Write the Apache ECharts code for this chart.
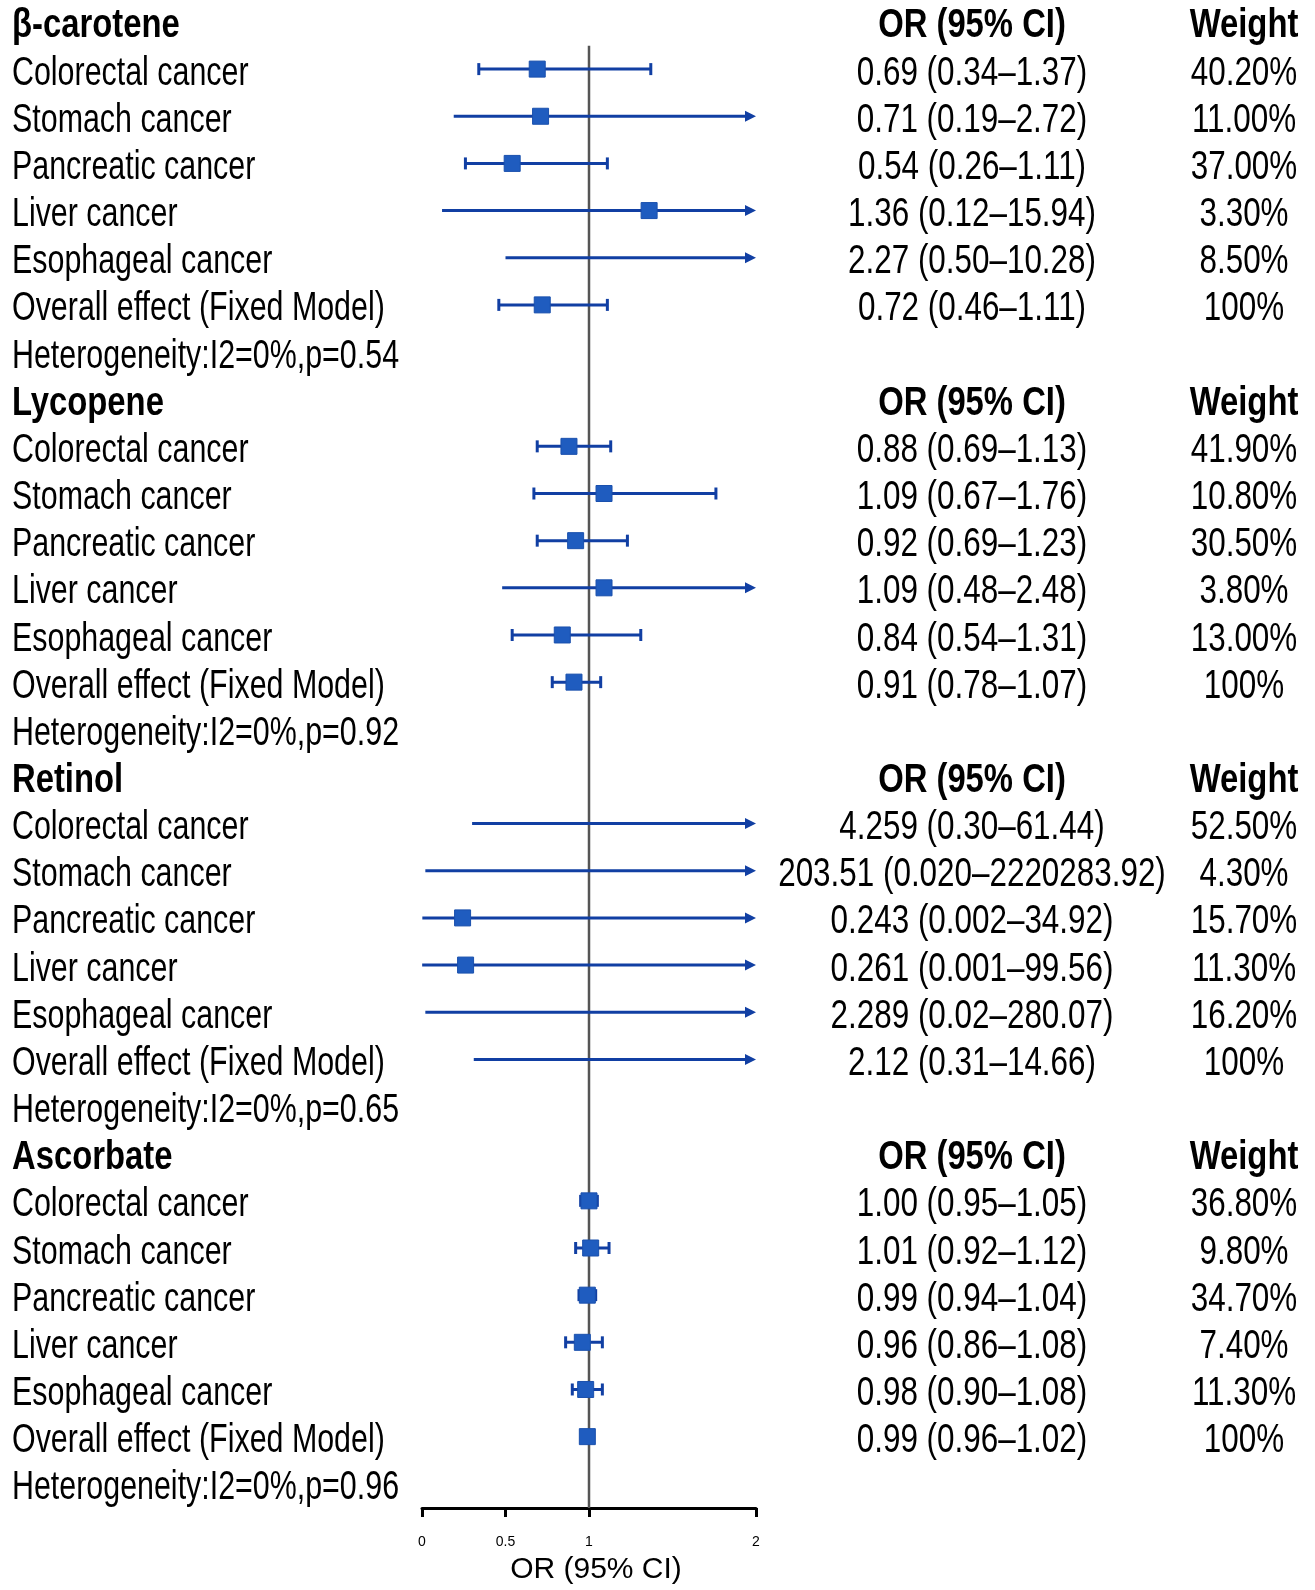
<!DOCTYPE html>
<html><head><meta charset="utf-8">
<script src="https://cdn.jsdelivr.net/npm/echarts@6/dist/echarts.min.js"></script>
<style>html,body{margin:0;padding:0;background:#fff}#c{width:1315px;height:1590px}</style>
</head><body><div id="c"></div>
<script>
// ---------- data ----------
const groups = ['β-carotene', 'Lycopene', 'Retinol', 'Ascorbate'];
const outcomes = ['Colorectal cancer', 'Stomach cancer', 'Pancreatic cancer', 'Liver cancer', 'Esophageal cancer', 'Overall effect (Fixed Model)'];

const betaOR = [0.69, 0.71, 0.54, 1.36, 2.27, 0.72];
const betaLo = [0.34, 0.19, 0.26, 0.12, 0.50, 0.46];
const betaHi = [1.37, 2.72, 1.11, 15.94, 10.28, 1.11];
const betaText = ['0.69 (0.34–1.37)', '0.71 (0.19–2.72)', '0.54 (0.26–1.11)', '1.36 (0.12–15.94)', '2.27 (0.50–10.28)', '0.72 (0.46–1.11)'];
const betaWeight = ['40.20%', '11.00%', '37.00%', '3.30%', '8.50%', '100%'];

const lycoOR = [0.88, 1.09, 0.92, 1.09, 0.84, 0.91];
const lycoLo = [0.69, 0.67, 0.69, 0.48, 0.54, 0.78];
const lycoHi = [1.13, 1.76, 1.23, 2.48, 1.31, 1.07];
const lycoText = ['0.88 (0.69–1.13)', '1.09 (0.67–1.76)', '0.92 (0.69–1.23)', '1.09 (0.48–2.48)', '0.84 (0.54–1.31)', '0.91 (0.78–1.07)'];
const lycoWeight = ['41.90%', '10.80%', '30.50%', '3.80%', '13.00%', '100%'];

const retiOR = [4.259, 203.51, 0.243, 0.261, 2.289, 2.12];
const retiLo = [0.30, 0.020, 0.002, 0.001, 0.02, 0.31];
const retiHi = [61.44, 2220283.92, 34.92, 99.56, 280.07, 14.66];
const retiText = ['4.259 (0.30–61.44)', '203.51 (0.020–2220283.92)', '0.243 (0.002–34.92)', '0.261 (0.001–99.56)', '2.289 (0.02–280.07)', '2.12 (0.31–14.66)'];
const retiWeight = ['52.50%', '4.30%', '15.70%', '11.30%', '16.20%', '100%'];

const ascoOR = [1.00, 1.01, 0.99, 0.96, 0.98, 0.99];
const ascoLo = [0.95, 0.92, 0.94, 0.86, 0.90, 0.96];
const ascoHi = [1.05, 1.12, 1.04, 1.08, 1.08, 1.02];
const ascoText = ['1.00 (0.95–1.05)', '1.01 (0.92–1.12)', '0.99 (0.94–1.04)', '0.96 (0.86–1.08)', '0.98 (0.90–1.08)', '0.99 (0.96–1.02)'];
const ascoWeight = ['36.80%', '9.80%', '34.70%', '7.40%', '11.30%', '100%'];

const hetP = ['0.54', '0.92', '0.65', '0.96'];
const xTicks = [0, 0.5, 1, 2];
const refValue = 1;
const colHeaderOR = 'OR (95% CI)';
const colHeaderW = 'Weight';

// ---------- build ----------
const XMIN = 0, XMAX = 2;
const YMAX = 31.418;
const allOR = [betaOR, lycoOR, retiOR, ascoOR];
const allLo = [betaLo, lycoLo, retiLo, ascoLo];
const allHi = [betaHi, lycoHi, retiHi, ascoHi];
const allText = [betaText, lycoText, retiText, ascoText];
const allW = [betaWeight, lycoWeight, retiWeight, ascoWeight];

const rows = [];
const marks = [];
groups.forEach((g, gi) => {
  const base = gi * 8;
  rows.push({ row: base, label: g, bold: true, ci: colHeaderOR, w: colHeaderW });
  outcomes.forEach((o, i) => {
    rows.push({ row: base + 1 + i, label: o, bold: false, ci: allText[gi][i], w: allW[gi][i] });
    marks.push([base + 1 + i, allOR[gi][i], allLo[gi][i], allHi[gi][i]]);
  });
  rows.push({ row: base + 7, label: 'Heterogeneity:I2=0%,p=' + hetP[gi], bold: false });
});

const LINE_C = '#113fa3';
const BOX_C = '#1f5cbf';
const FONT = 'Liberation Sans, Arial, sans-serif';

function txt(x, y, s, bold, align, sx) {
  return {
    type: 'text', x: x, y: y, scaleX: sx,
    style: { text: s, fontSize: 40, fontFamily: FONT, fontWeight: bold ? 'bold' : 'normal',
             fill: '#000', align: align, verticalAlign: 'middle' }
  };
}

const chart = echarts.init(document.getElementById('c'), null, { renderer: 'canvas' });
chart.setOption({
  backgroundColor: '#fff',
  animation: false,
  grid: { left: 422, right: 559, top: 2.875, bottom: 79, containLabel: false },
  xAxis: {
    type: 'value', min: XMIN, max: XMAX, interval: 0.5,
    axisLine: { show: true, onZero: false, lineStyle: { color: '#000', width: 3 } },
    axisTick: { show: true, length: 9, customValues: xTicks, lineStyle: { color: '#000', width: 3 } },
    axisLabel: { customValues: xTicks, fontSize: 14, color: '#000', margin: 27, fontFamily: FONT },
    splitLine: { show: false },
    name: 'OR (95% CI)', nameLocation: 'middle', nameGap: 47,
    nameTextStyle: { fontSize: 30, color: '#000', fontFamily: FONT, padding: [0, 0, 0, 14] }
  },
  yAxis: { type: 'value', min: -0.5, max: YMAX, inverse: true, show: false },
  series: [
    {
      type: 'custom', silent: true, z: 1,
      data: [[refValue]],
      renderItem: (p, api) => {
        const a = api.coord([api.value(0), 0.41]);
        const b = api.coord([api.value(0), YMAX]);
        return { type: 'line', shape: { x1: a[0], y1: a[1], x2: b[0], y2: b[1] },
                 style: { stroke: '#555', lineWidth: 2.5 } };
      }
    },
    {
      type: 'custom', silent: true, z: 2,
      data: marks,
      renderItem: (p, api) => {
        const row = api.value(0), est = api.value(1), lo = api.value(2), hi = api.value(3);
        const y = api.coord([XMIN, row])[1] - 4.5;
        const xL = api.coord([Math.max(lo, XMIN), row])[0];
        const over = hi > XMAX;
        const xR = api.coord([Math.min(hi, XMAX), row])[0];
        const ch = [];
        ch.push({ type: 'line', shape: { x1: xL, y1: y, x2: over ? xR - 6 : xR, y2: y },
                  style: { stroke: LINE_C, lineWidth: 3 } });
        if (over) {
          ch.push({ type: 'polygon', shape: { points: [[xR - 11, y - 5.5], [xR, y], [xR - 11, y + 5.5]] },
                    style: { fill: LINE_C } });
        } else {
          ch.push({ type: 'line', shape: { x1: xL, y1: y - 6, x2: xL, y2: y + 6 }, style: { stroke: LINE_C, lineWidth: 3 } });
          ch.push({ type: 'line', shape: { x1: xR, y1: y - 6, x2: xR, y2: y + 6 }, style: { stroke: LINE_C, lineWidth: 3 } });
        }
        if (est >= XMIN && est <= XMAX) {
          const xe = api.coord([est, row])[0];
          ch.push({ type: 'rect', shape: { x: xe - 8, y: y - 8, width: 16, height: 16 },
                    style: { fill: BOX_C, stroke: '#1a50ad', lineWidth: 1 } });
        }
        return { type: 'group', children: ch };
      }
    },
    {
      type: 'custom', silent: true, z: 3,
      data: rows.map(r => [XMIN, r.row]),
      renderItem: (p, api) => {
        const r = rows[p.dataIndex];
        const y = api.coord([XMIN, api.value(1)])[1];
        const ch = [txt(12, y, r.label, r.bold, 'left', r.bold ? 0.82 : 0.76)];
        if (r.ci) ch.push(txt(972, y, r.ci, r.bold, 'center', r.bold ? 0.82 : 0.785));
        if (r.w) ch.push(txt(1244, y, r.w, r.bold, 'center', r.bold ? 0.82 : 0.785));
        return { type: 'group', children: ch };
      }
    }
  ]
});
</script>
</body></html>
